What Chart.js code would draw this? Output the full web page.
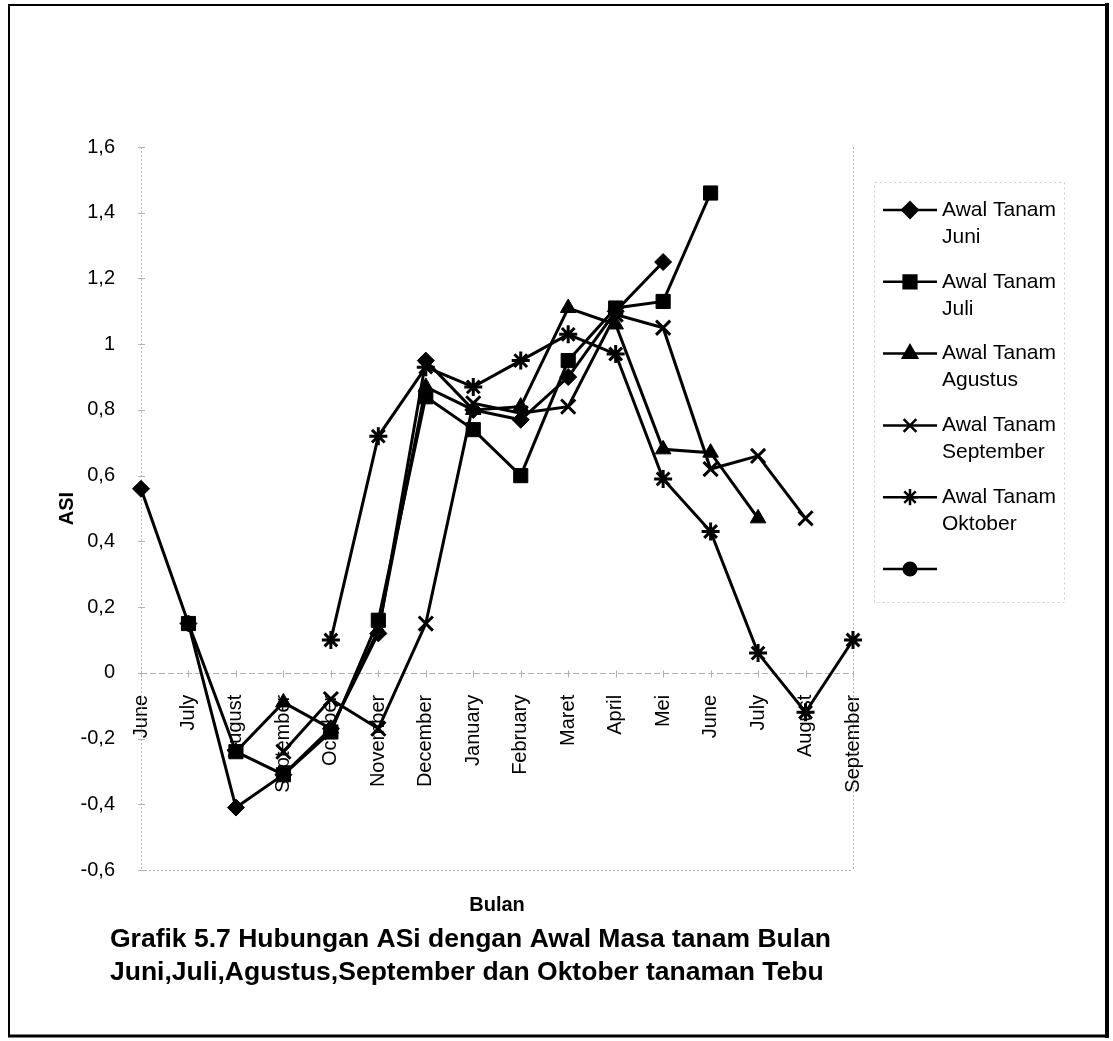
<!DOCTYPE html>
<html><head><meta charset="utf-8">
<script src="https://cdn.jsdelivr.net/npm/chart.js@4.4.1/dist/chart.umd.min.js"></script>
<style>html,body{margin:0;padding:0;background:#fff;}canvas{display:block;}</style>
</head><body>
<canvas id="c" width="1113" height="1041" style="width:1113px;height:1041px"></canvas>
<script>
// ---- data ----
const monthLabels = ['June','July','August','September','October','November','December','January','February','Maret','April','Mei','June','July','August','September'];
const yMin = -0.6, yMax = 1.6, yStep = 0.2;
const seriesLabels = [['Awal Tanam','Juni'],['Awal Tanam','Juli'],['Awal Tanam','Agustus'],['Awal Tanam','September'],['Awal Tanam','Oktober'],['']];
const juni      = [0.56, 0.15, -0.41, -0.31, -0.17, 0.12, 0.95, 0.80, 0.77, 0.90, 1.10, 1.25, null, null, null, null];
const juli      = [null, 0.15, -0.24, -0.31, -0.18, 0.16, 0.84, 0.74, 0.60, 0.95, 1.11, 1.13, 1.46, null, null, null];
const agustus   = [null, null, -0.24, -0.09, -0.17, 0.13, 0.87, 0.80, 0.81, 1.11, 1.06, 0.68, 0.67, 0.47, null, null];
const september = [null, null, null, -0.24, -0.08, -0.17, 0.15, 0.82, 0.79, 0.81, 1.09, 1.05, 0.62, 0.66, 0.47, null];
const oktober   = [null, null, null, null, 0.10, 0.72, 0.93, 0.87, 0.95, 1.03, 0.97, 0.59, 0.43, 0.06, -0.12, 0.10];
const unnamed   = [];
const titleLines = ['Grafik 5.7 Hubungan ASi dengan Awal Masa tanam Bulan','Juni,Juli,Agustus,September dan Oktober tanaman Tebu'];
const yTitle = 'ASI', xTitle = 'Bulan';

// ---- styles ----
const FONT = "'Liberation Sans', Arial, sans-serif";
const styles = [
  {pointStyle:'rectRot', radius:8.5},
  {pointStyle:'rect', radius:10},
  {pointStyle:'triangle', radius:9},
  {pointStyle:'crossRot', radius:10},
  {pointStyle:'star', radius:9},
  {pointStyle:'circle', radius:7}
];
const allData = [juni, juli, agustus, september, oktober, unnamed];
const datasets = allData.map((d,i)=>({
  label: seriesLabels[i].join(' '),
  data: d,
  borderColor:'#000', backgroundColor:'#000',
  borderWidth:3, pointStyle:styles[i].pointStyle, pointRadius:styles[i].radius,
  pointBorderWidth: (styles[i].pointStyle==='crossRot'||styles[i].pointStyle==='star')?3:1,
  pointBorderColor:'#000', pointBackgroundColor:'#000',
  tension:0, spanGaps:false, fill:false
}));

function fmt(v){ const n = Number(v.toFixed(1)); return String(n).replace('.',','); }

const decor = {
  id:'decor',
  beforeDatasetsDraw(chart){
    const {ctx, chartArea:a, scales:{x,y}} = chart;
    const line=(x1,y1,x2,y2)=>{ctx.beginPath();ctx.moveTo(x1,y1);ctx.lineTo(x2,y2);ctx.stroke();};
    ctx.save();
    ctx.strokeStyle='#b0b0b0'; ctx.lineWidth=1;
    ctx.setLineDash([2,2]);
    line(a.left+0.5,a.top,a.left+0.5,a.bottom);
    line(a.right+0.5,a.top,a.right+0.5,a.bottom);
    line(a.left,a.bottom+0.5,a.right,a.bottom+0.5);
    const y0 = Math.round(y.getPixelForValue(0))+0.5;
    ctx.setLineDash([6,3]);
    line(a.left,y0,a.right,y0);
    ctx.setLineDash([]);
    y.ticks.forEach(t=>{const py=Math.round(y.getPixelForValue(t.value))+0.5; line(a.left-3,py,a.left+4,py);});
    x.ticks.forEach((t,i)=>{const px=Math.round(x.getPixelForTick(i))+0.5; line(px,y0-3,px,y0+4);});
    ctx.restore();
  },
  afterDraw(chart){
    const {ctx, chartArea:a} = chart;
    ctx.save();
    ctx.fillStyle='#000';
    // y title
    ctx.font = 'bold 20px '+FONT;
    ctx.textAlign='center'; ctx.textBaseline='middle';
    ctx.save(); ctx.translate(67,(a.top+a.bottom)/2); ctx.rotate(-Math.PI/2); ctx.fillText(yTitle,0,0); ctx.restore();
    // x title
    ctx.fillText(xTitle,(a.left+a.right)/2,905);
    // chart title
    ctx.font = 'bold 26.5px '+FONT;
    ctx.textAlign='left';
    ctx.fillText(titleLines[0],110,940);
    ctx.fillText(titleLines[1],110,973);
    // legend
    const lx1=883, lx2=937, tx=942;
    ctx.font='21px '+FONT;
    chart.data.datasets.forEach((ds,i)=>{
      const yy = 210 + i*71.8;
      ctx.strokeStyle='#000'; ctx.lineWidth=2.5; ctx.setLineDash([]);
      ctx.beginPath(); ctx.moveTo(lx1,yy); ctx.lineTo(lx2,yy); ctx.stroke();
      ctx.fillStyle='#000';
      Chart.helpers.drawPoint(ctx,{pointStyle:ds.pointStyle,radius:ds.pointRadius*0.9,borderWidth:ds.pointBorderWidth,rotation:0},(lx1+lx2)/2,yy);
      ctx.fillStyle='#000'; ctx.textAlign='left'; ctx.textBaseline='middle';
      seriesLabels[i].forEach((s,k)=>ctx.fillText(s,tx,yy+k*27));
    });
    // faint legend box
    ctx.strokeStyle='#cfcfcf'; ctx.lineWidth=1; ctx.setLineDash([2,3]);
    ctx.strokeRect(874.5,182.5,190,420);
    // page border
    ctx.setLineDash([]);
    ctx.strokeStyle='#000';
    ctx.lineWidth=2; ctx.beginPath(); ctx.moveTo(9,5); ctx.lineTo(1107,5); ctx.stroke();
    ctx.beginPath(); ctx.moveTo(9,4); ctx.lineTo(9,1037); ctx.stroke();
    ctx.lineWidth=3; ctx.beginPath(); ctx.moveTo(8,1036); ctx.lineTo(1108,1036); ctx.stroke();
    ctx.lineWidth=4; ctx.beginPath(); ctx.moveTo(1107,3); ctx.lineTo(1107,1038); ctx.stroke();
    ctx.restore();
  }
};

new Chart(document.getElementById('c'),{
  type:'line',
  data:{labels:monthLabels, datasets},
  options:{
    responsive:false, animation:false, devicePixelRatio:1,
    layout:{padding:{left:41,right:260,top:147,bottom:171}},
    plugins:{legend:{display:false},tooltip:{enabled:false}},
    scales:{
      x:{
        type:'category', position:{y:0}, offset:false,
        grid:{display:false}, border:{display:false},
        ticks:{autoSkip:false,minRotation:90,maxRotation:90,padding:14,color:'#000',font:{family:FONT,size:20}}
      },
      y:{
        min:yMin, max:yMax,
        grid:{display:false}, border:{display:false},
        afterFit:(s)=>{s.width=100;},
        ticks:{stepSize:yStep,padding:18,color:'#000',font:{family:FONT,size:20},callback:(v)=>fmt(v)}
      }
    }
  },
  plugins:[decor]
});
</script>
</body></html>
